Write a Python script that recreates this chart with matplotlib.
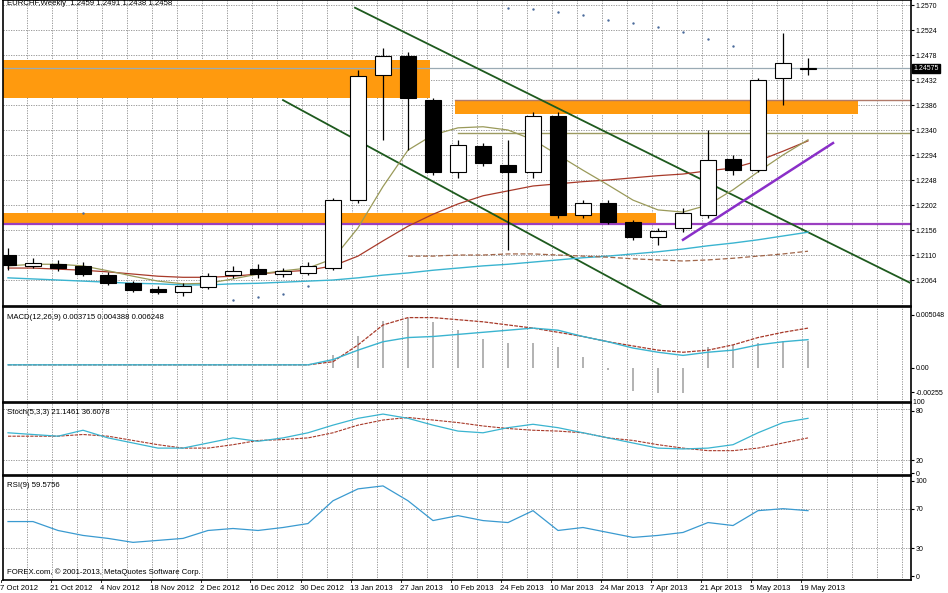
import matplotlib
matplotlib.use("Agg")
import matplotlib.pyplot as plt
import numpy as np

plt.rcParams["font.family"] = ["Liberation Sans", "DejaVu Sans"]

# ---------------- data ----------------
date_labels = ["7 Oct 2012", "21 Oct 2012", "4 Nov 2012", "18 Nov 2012", "2 Dec 2012",
               "16 Dec 2012", "30 Dec 2012", "13 Jan 2013", "27 Jan 2013", "10 Feb 2013",
               "24 Feb 2013", "10 Mar 2013", "24 Mar 2013", "7 Apr 2013", "21 Apr 2013",
               "5 May 2013", "19 May 2013"]

opens = [1.2110, 1.2090, 1.2093, 1.2090, 1.2073, 1.2058, 1.2047, 1.2042, 1.2051, 1.2073,
         1.2084, 1.2075, 1.2077, 1.2086, 1.2211, 1.2441, 1.2476, 1.2395, 1.2263, 1.2311,
         1.2276, 1.2263, 1.2366, 1.2184, 1.2206, 1.2171, 1.2143, 1.2160, 1.2184, 1.2287,
         1.2266, 1.2436, 1.2452]
highs = [1.2123, 1.2104, 1.2101, 1.2097, 1.2079, 1.2062, 1.2053, 1.2058, 1.2077, 1.2090,
         1.2093, 1.2086, 1.2097, 1.2215, 1.2450, 1.2491, 1.2484, 1.2399, 1.2322, 1.2316,
         1.2322, 1.2373, 1.2373, 1.2211, 1.2211, 1.2175, 1.2160, 1.2197, 1.2340, 1.2294,
         1.2436, 1.2519, 1.2473]
lows = [1.2082, 1.2086, 1.2081, 1.2071, 1.2055, 1.2042, 1.2038, 1.2035, 1.2047, 1.2068,
        1.2068, 1.2070, 1.2073, 1.2082, 1.2206, 1.2322, 1.2303, 1.2257, 1.2252, 1.2274,
        1.2119, 1.2252, 1.2178, 1.2178, 1.2167, 1.2138, 1.2128, 1.2152, 1.2178, 1.2257,
        1.2263, 1.2386, 1.2441]
closes = [1.2092, 1.2095, 1.2086, 1.2075, 1.2058, 1.2046, 1.2042, 1.2053, 1.2071, 1.2081,
          1.2075, 1.2081, 1.2090, 1.2211, 1.2439, 1.2476, 1.2399, 1.2263, 1.2312, 1.2279,
          1.2263, 1.2366, 1.2184, 1.2206, 1.2171, 1.2143, 1.2154, 1.2187, 1.2285, 1.2266,
          1.2432, 1.2463, 1.2454]

ma_fast = [1.2090, 1.2093, 1.2093, 1.2090, 1.2081, 1.2071, 1.2062, 1.2057, 1.2058, 1.2066,
           1.2075, 1.2081, 1.2086, 1.2103, 1.2160, 1.2236, 1.2303, 1.2331, 1.2344, 1.2346,
           1.2340, 1.2322, 1.2294, 1.2266, 1.2239, 1.2211, 1.2193, 1.2189, 1.2202, 1.2230,
           1.2263, 1.2294, 1.2322]
ma_mid = [1.2086, 1.2086, 1.2084, 1.2082, 1.2079, 1.2075, 1.2071, 1.2069, 1.2069, 1.2071,
          1.2075, 1.2079, 1.2082, 1.2090, 1.2108, 1.2136, 1.2163, 1.2185, 1.2204, 1.2219,
          1.2228, 1.2237, 1.2241, 1.2245, 1.2248, 1.2252, 1.2256, 1.2259, 1.2265, 1.2270,
          1.2283, 1.2301, 1.2320]
ma_slow = [1.2068, 1.2066, 1.2064, 1.2062, 1.2060, 1.2058, 1.2057, 1.2055, 1.2055, 1.2057,
           1.2058, 1.2060, 1.2062, 1.2064, 1.2068, 1.2073, 1.2077, 1.2082, 1.2086, 1.2090,
           1.2093, 1.2097, 1.2101, 1.2105, 1.2108, 1.2112, 1.2116, 1.2121, 1.2127, 1.2132,
           1.2138, 1.2145, 1.2152]
ma_long_idx = list(range(16, 33))
ma_long = [1.2108, 1.2108, 1.2110, 1.2110, 1.2112, 1.2112, 1.2110, 1.2108, 1.2106, 1.2103,
           1.2101, 1.2099, 1.2101, 1.2104, 1.2108, 1.2112, 1.2117]

sar_idx = [3, 9, 10, 11, 12, 20, 21, 22, 23, 24, 25, 26, 27, 28, 29]
sar_val = [1.2187, 1.2027, 1.2033, 1.2038, 1.2053, 1.2565, 1.2562, 1.2558, 1.2551, 1.2543,
           1.2536, 1.2529, 1.2520, 1.2508, 1.2495]

zones = [(-1.0, 16.9, 1.2399, 1.2469), (17.9, 34.0, 1.2369, 1.2395), (-1.0, 25.9, 1.2167, 1.2187)]
hlines_price = [1.2454, 1.2395, 1.2335, 1.2167]
trend_up = ([13.88, 36.12], [1.2565, 1.2058])
trend_low = ([11.0, 26.1], [1.2395, 1.2018])
trend_purple = ([27.0, 33.0], [1.2138, 1.2316])

price_ticks = [1.2064, 1.2110, 1.2156, 1.2202, 1.2248, 1.2294, 1.2340, 1.2386, 1.2432,
               1.2478, 1.2524, 1.2570]

macd_main = [0.0003, 0.0003, 0.0003, 0.0003, 0.0003, 0.0003, 0.0003, 0.0003, 0.0003, 0.0003,
             0.0003, 0.0003, 0.0003, 0.0008, 0.0017, 0.0025, 0.0029, 0.0030, 0.0032, 0.0034,
             0.0036, 0.0038, 0.0036, 0.0030, 0.0025, 0.0019, 0.0015, 0.0012, 0.0015, 0.0017,
             0.0022, 0.0025, 0.0027]
macd_signal = [0.0003, 0.0003, 0.0003, 0.0003, 0.0003, 0.0003, 0.0003, 0.0003, 0.0003, 0.0003,
               0.0003, 0.0003, 0.0003, 0.0006, 0.0022, 0.0041, 0.0048, 0.0048, 0.0046, 0.0044,
               0.0041, 0.0038, 0.0034, 0.0030, 0.0025, 0.0021, 0.0017, 0.0015, 0.0017, 0.0022,
               0.0029, 0.0034, 0.0038]
macd_hist = [0.0, 0.0, 0.0, 0.0, 0.0, 0.0, 0.0, 0.0, 0.0, 0.0,
             0.0, 0.0, 0.0, 0.0012, 0.0030, 0.0045, 0.0048, 0.0044, 0.0036, 0.0028,
             0.0024, 0.0024, 0.0020, 0.0010, -0.0002, -0.0022, -0.0024, -0.0024, 0.0020, 0.0022,
             0.0024, 0.0026, 0.0026]

stoch_k = [52, 50, 48, 55, 46, 40, 34, 34, 40, 46, 42, 46, 52, 61, 69, 74, 69, 61, 54, 52,
           58, 62, 58, 52, 46, 40, 34, 33, 34, 38, 52, 64, 69]
stoch_d = [48, 48, 48, 50, 48, 43, 38, 34, 34, 38, 43, 44, 46, 52, 61, 67, 70, 67, 64, 60,
           57, 55, 54, 52, 46, 43, 38, 34, 31, 31, 34, 40, 46]

rsi = [57, 57, 48, 43, 40, 36, 38, 40, 48, 50, 48, 51, 55, 78, 90, 93, 78, 58, 63, 58,
       56, 68, 48, 51, 46, 41, 43, 46, 56, 53, 68, 70, 68]

# ---------------- figure ----------------
W, H = 948, 593
fig = plt.figure(figsize=(W / 100, H / 100), dpi=100)
fig.patch.set_facecolor("white")

def add_ax(top, bottom, left=3, right=911):
    return fig.add_axes([left / W, 1 - bottom / H, (right - left) / W, (bottom - top) / H])

FS = 5.6
AFS = 5.0
GRID = dict(color="#8a8a8a", linestyle=(0, (1.5, 1.5)), linewidth=0.6)
n = len(opens)
x = np.arange(n)
XL = (-0.2, 36.12)

ax = add_ax(0, 306)
axm = add_ax(307, 402)
axs = add_ax(403, 475)
axr = add_ax(476, 580)

for a in (ax, axm, axs, axr):
    a.set_xlim(*XL)
    a.set_xticks([])
    for sp in a.spines.values():
        sp.set_color("black")
        sp.set_linewidth(1.2)
    a.tick_params(axis="y", which="both", right=True, left=False, labelright=True,
                  labelleft=False, labelsize=AFS, length=2, pad=1.5, colors="black")
    for k in range(n + 4):
        a.axvline(k + 0.76, **GRID, zorder=0)

# ---- main price panel ----
ax.set_ylim(1.20162, 1.25792)
ax.set_yticks(price_ticks)
ax.set_yticklabels([f"{v:.4f}" for v in price_ticks])
for v in price_ticks:
    ax.axhline(v, **GRID, zorder=0)

for (x0, x1, y0, y1) in zones:
    ax.fill_between([x0, x1], y0, y1, color="#ff9a0e", zorder=1, linewidth=0)

ax.axhline(hlines_price[0], color="#9aaab4", lw=0.9, zorder=2)
ax.plot([17.9, XL[1]], [hlines_price[1]] * 2, color="#b07a6a", lw=1.0, zorder=2)
ax.plot([18.0, XL[1]], [hlines_price[2]] * 2, color="#9c9a60", lw=1.0, zorder=2)
ax.axhline(hlines_price[3], color="#9a3fc0", lw=1.6, zorder=2)

ax.plot(*trend_up, color="#1e5a1e", lw=1.3, zorder=3)
ax.plot(*trend_low, color="#1e5a1e", lw=1.3, zorder=3)
ax.plot(*trend_purple, color="#8a2fc8", lw=1.8, zorder=3)

ax.plot(x, ma_slow, color="#3ab4d0", lw=1.0, zorder=3)
ax.plot(x, ma_mid, color="#a83a2a", lw=0.9, zorder=3)
ax.plot(x, ma_fast, color="#9a9a5a", lw=0.9, zorder=3)
ax.plot(ma_long_idx, ma_long, color="#a0664a", lw=0.9, ls=(0, (4, 2)), zorder=3)
ax.scatter(sar_idx, sar_val, s=3, color="#4a6a9a", zorder=3, linewidths=0)

bw = 0.64
for i in range(n):
    o, h, l, c = opens[i], highs[i], lows[i], closes[i]
    ax.vlines(i, l, h, color="black", lw=0.9, zorder=4)
    bot, top = min(o, c), max(o, c)
    fc = "white" if c >= o else "black"
    ax.bar(i, max(top - bot, 0.00004), bottom=bot, width=bw, color=fc,
           edgecolor="black", linewidth=0.8, zorder=5)

ax.text(XL[1] + 0.1, hlines_price[0], "1.24575", transform=ax.transData, fontsize=AFS,
        color="white", va="center", ha="left",
        bbox=dict(boxstyle="square,pad=0.15", fc="black", ec="black"), clip_on=False, zorder=10)
ax.text(0.004, 0.999, "EURCHF,Weekly  1.2459 1.2491 1.2438 1.2458", transform=ax.transAxes,
        fontsize=FS, va="top", ha="left", zorder=10)

# ---- MACD ----
axm.set_ylim(-0.00324, 0.00581)
axm.set_yticks([0.005048, 0.0, -0.0023])
axm.set_yticklabels(["0.005048", "0.00", "-0.00255"])
axm.bar(x, macd_hist, width=0.08, color="#b4b4b4", zorder=2)
axm.plot(x, macd_signal, color="#a83a2a", lw=0.9, ls=(0, (3, 1)), zorder=3)
axm.plot(x, macd_main, color="#3ab4d0", lw=1.0, zorder=3)
axm.text(0.004, 0.93, "MACD(12,26,9) 0.003715 0.004388 0.006248", transform=axm.transAxes,
         fontsize=FS, va="top", ha="left")

# ---- Stochastic ----
axs.set_ylim(2.4, 87)
axs.set_yticks([78, 20, 4.5])
axs.set_yticklabels(["80", "20", "0"])
axs.text(1.0, 1.0, " 100", transform=axs.transAxes, fontsize=AFS, va="center", ha="left",
         clip_on=False)
for v in (80, 20):
    axs.axhline(v, **GRID, zorder=0)
axs.plot(x, stoch_d, color="#a83a2a", lw=0.8, ls=(0, (3, 1)), zorder=3)
axs.plot(x, stoch_k, color="#3ab4d0", lw=0.9, zorder=3)
axs.text(0.004, 0.92, "Stoch(5,3,3) 21.1461 36.6078", transform=axs.transAxes,
         fontsize=FS, va="top", ha="left")

# ---- RSI ----
axr.set_ylim(-2, 103)
axr.set_yticks([98, 70, 30, 2])
axr.set_yticklabels(["100", "70", "30", "0"])
for v in (70, 30):
    axr.axhline(v, **GRID, zorder=0)
axr.plot(x, rsi, color="#3a9ad0", lw=0.9, zorder=3)
axr.text(0.004, 0.94, "RSI(9) 59.5756", transform=axr.transAxes,
         fontsize=FS, va="top", ha="left")
axr.text(0.004, 0.04, "FOREX.com, \u00a9 2001-2013, MetaQuotes Software Corp.",
         transform=axr.transAxes, fontsize=FS, va="bottom", ha="left")

# dates
for k, lab in enumerate(date_labels):
    xi = 2 * k
    axr.text(xi - 0.3, -0.045, lab, transform=axr.get_xaxis_transform(), fontsize=FS,
             va="top", ha="left", clip_on=False)
    axr.plot([xi - 0.3, xi - 0.3], [-0.02, 0.0], transform=axr.get_xaxis_transform(),
             color="black", lw=0.6, clip_on=False)

fig.savefig("out.png", dpi=100)
